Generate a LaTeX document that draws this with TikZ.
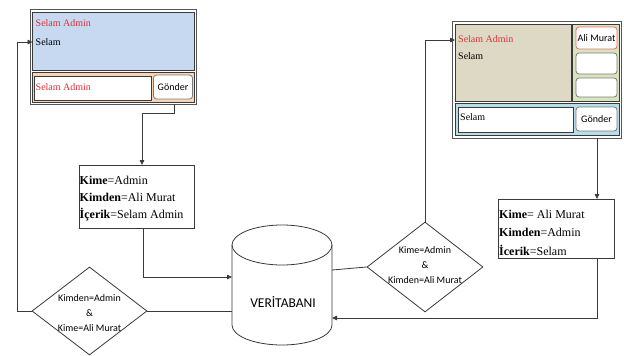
\documentclass[tikz,border=0pt]{standalone}
\usepackage{fontspec}
\setmainfont{Liberation Serif}
\newfontfamily\uisans{Carlito}
\usetikzlibrary{shapes.geometric,arrows.meta}

\definecolor{edge}{HTML}{3A3A3A}
\definecolor{frameedge}{HTML}{555555}
\definecolor{msgred}{HTML}{DD3038}
\definecolor{panelblue}{HTML}{C6D9F1}
\definecolor{panelpeach}{HTML}{FAD3B4}
\definecolor{panelbeige}{HTML}{DDD9C4}
\definecolor{panelgreen}{HTML}{D7E4BD}
\definecolor{panelcyan}{HTML}{B7DEE8}
\definecolor{btnedge}{HTML}{7A7A7A}
\definecolor{btnred}{HTML}{EE6A6A}

\tikzset{
  rect/.style={rectangle, anchor=north west, inner sep=0pt, outer sep=0pt},
  winframe/.style={rect, draw=frameedge, line width=1pt, fill=white},
  panel/.style={rect, draw=edge, line width=1pt},
  field/.style={rect, draw=edge, line width=0.8pt, fill=white},
  button/.style={rect, draw=btnedge, line width=0.8pt, fill=white, rounded corners=3pt},
  uitext/.style={anchor=west, inner sep=0pt, font=\fontsize{10}{12}\selectfont},
  btntext/.style={inner sep=0pt, font=\uisans\fontsize{10}{12}\selectfont},
  msgbox/.style={rect, draw=edge, line width=0.8pt, fill=white},
  msgtext/.style={anchor=west, inner sep=0pt, align=left},
  decision/.style={diamond, draw=edge, line width=0.8pt, fill=white,
    inner sep=0pt, minimum width=115pt, minimum height=88pt},
  dectext/.style={inner sep=0pt, align=center, font=\uisans\fontsize{10}{15}\selectfont},
  link/.style={draw=edge, line width=0.8pt},
  flow/.style={link, -{Triangle[length=5pt,width=4.5pt]}},
}

\begin{document}
\begin{tikzpicture}[x=1pt,y=-1pt]
\useasboundingbox[fill=white] (0,0) rectangle (624,356);

% ---- left chat window (Admin) ----
\node[winframe, minimum width=166pt, minimum height=95pt] (lwin) at (30,9) {};
\node[panel, fill=panelblue, minimum width=161.5pt, minimum height=58pt] (lblue) at (32.5,12) {};
\node[panel, fill=panelpeach, minimum width=161.5pt, minimum height=30pt] (lpeach) at (32.5,72) {};
\node[field, minimum width=116.5pt, minimum height=24pt] (lfield) at (34.5,76) {};
\node[button, minimum width=39pt, minimum height=24pt] (lsend) at (153.5,75) {};
\node[uitext, text=msgred] (lmsg1) at (35.5,23) {Selam Admin};
\node[uitext] (lmsg2) at (35.5,42) {Selam};
\node[uitext, text=msgred] (linput) at (35.5,87) {Selam Admin};
\node[btntext] (lsendtxt) at (lsend.center) {Gönder};

% ---- right chat window (Ali Murat) ----
\node[winframe, minimum width=169pt, minimum height=117pt] (rwin) at (452,21) {};
\node[panel, fill=panelbeige, minimum width=116pt, minimum height=77pt] (rbeige) at (455,24) {};
\node[panel, fill=panelgreen, minimum width=47pt, minimum height=77pt] (rgreen) at (572,24) {};
\node[button, draw=btnred, minimum width=41pt, minimum height=22pt] (ruser1) at (576,27) {};
\node[button, minimum width=41pt, minimum height=21pt] (ruser2) at (576,53) {};
\node[button, minimum width=41pt, minimum height=19pt] (ruser3) at (576,78) {};
\node[panel, fill=panelcyan, minimum width=164pt, minimum height=32pt] (rcyan) at (455,103) {};
\node[field, minimum width=115pt, minimum height=25pt] (rfield) at (458,107) {};
\node[button, minimum width=41pt, minimum height=24pt] (rsend) at (576,107) {};
\node[uitext, text=msgred] (rmsg1) at (458,39) {Selam Admin};
\node[uitext] (rmsg2) at (458,56) {Selam};
\node[uitext] (rinput) at (460,117) {Selam};
\node[btntext] (ruser1txt) at (ruser1.center) {Ali Murat};
\node[btntext] (rsendtxt) at (rsend.center) {Gönder};

% ---- message records ----
\node[msgbox, minimum width=115pt, minimum height=63pt] (lbox) at (79,165) {};
\node[msgtext, font=\fontsize{12}{17}\selectfont] (lboxtxt) at (79.5,199)
  {\textbf{Kime}=Admin\\\textbf{Kimden}=Ali Murat\\\textbf{İçerik}=Selam Admin};
\node[msgbox, minimum width=116pt, minimum height=59pt] (rbox) at (498,199) {};
\node[msgtext, font=\fontsize{12}{18.5}\selectfont] (rboxtxt) at (499,232.5)
  {\textbf{Kime}= Ali Murat\\\textbf{Kimden}=Admin\\\textbf{İcerik}=Selam};

% ---- database ----
\node[rectangle, minimum width=100pt, minimum height=120pt, inner sep=0pt, outer sep=0pt] (db) at (282,285) {};
\draw[link, fill=white] (232,245) -- (232,325) arc[start angle=180, end angle=360, x radius=50pt, y radius=20pt]
  -- (332,245);
\draw[link] (282,245) ellipse[x radius=50pt, y radius=20pt];
\node[font=\uisans\fontsize{13.5}{16}\selectfont] (dbtxt) at (283,302) {VERİTABANI};

% ---- filters ----
\node[decision] (ld) at (89.5,311) {};
\node[dectext] (ldtxt) at (89.5,313) {Kimden=Admin\\\&\\Kime=Ali Murat};
\node[decision, minimum width=116pt, minimum height=90pt] (rd) at (425,267) {};
\node[dectext] (rdtxt) at (425,265) {Kime=Admin\\\&\\Kimden=Ali Murat};

% ---- connectors ----
\coordinate (j1a) at (174,113);
\coordinate (j1b) at (142,113);
\draw[flow] (lwin.south -| j1a) -- (j1a) -- (j1b) -- (lbox.north -| j1b);
\coordinate (j2) at (143,277);
\draw[flow] (lbox.south -| j2) -- (j2) -- (db.west |- j2);
\draw[link] (db.west |- ld.east) -- (ld.east);
\coordinate (j4) at (17,42);
\draw[flow] (ld.west) -| (j4) -- (lblue.west |- j4);
\coordinate (j5) at (332,270);
\draw[link] (j5) -- (rd.west);
\coordinate (j6) at (425,40);
\draw[flow] (rd.north) -- (j6) -- (rbeige.west |- j6);
\coordinate (j7) at (597,150);
\draw[flow] (rwin.south -| j7) -- (rbox.north -| j7);
\coordinate (j8) at (597,318);
\draw[flow] (rbox.south -| j8) -- (j8) -- (db.east |- j8);
\end{tikzpicture}
\end{document}
